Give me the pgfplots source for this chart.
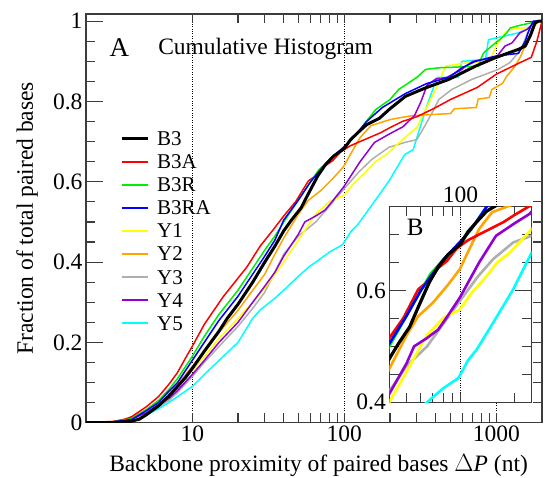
\documentclass[border=0pt]{standalone}
\usepackage{fontspec}
\setmainfont{Liberation Serif}
\usepackage{pgfplots}
\pgfplotsset{compat=1.18}
\usepackage{pgfplotstable}

\definecolor{lnRed}{RGB}{255,0,0}
\definecolor{lnGreen}{RGB}{0,238,0}
\definecolor{lnBlue}{RGB}{0,0,255}
\definecolor{lnYellow}{RGB}{255,255,0}
\definecolor{lnOrange}{RGB}{255,165,0}
\definecolor{lnGray}{RGB}{175,175,175}
\definecolor{lnPurple}{RGB}{148,0,211}
\definecolor{lnCyan}{RGB}{0,255,255}
\definecolor{frame}{RGB}{60,60,60}

\pgfplotstableread{
x y
2 0
3 0
4 0.004
4.5 0.009
5 0.02
6 0.042
7 0.066
8 0.09
9 0.112
10 0.135
12 0.178
15 0.228
17 0.26
20 0.295
25 0.35
30 0.40
35 0.44
40 0.478
45 0.505
52 0.535
58 0.57
67 0.615
75 0.642
85 0.664
100 0.683
110 0.705
125 0.725
140 0.742
170 0.758
200 0.782
253 0.813
343 0.834
487 0.855
729 0.888
984 0.909
1400 0.93
1550 0.938
1680 0.965
1800 0.996
1900 1.0
2000 1.0
}\dBthree

\pgfplotstableread{
x y
2 0
3 0.003
3.5 0.007
4 0.015
5 0.04
6 0.065
7 0.095
8 0.125
9 0.16
10 0.19
12 0.245
16 0.314
20 0.36
23 0.389
28 0.44
34 0.48
40 0.515
48 0.551
58 0.602
67.5 0.62
75 0.64
84 0.653
95 0.675
110 0.69
123 0.698
150 0.712
173 0.722
200 0.735
240 0.75
300 0.762
400 0.785
500 0.805
750 0.835
1000 0.868
1400 0.895
1700 0.91
1850 0.95
2000 1.0
}\dBthreeA

\pgfplotstableread{
x y
2 0
3 0.002
4 0.01
5 0.033
6 0.055
7 0.082
8 0.11
10 0.165
12 0.215
15 0.27
20 0.33
25 0.385
30 0.43
35 0.465
40 0.5
50 0.555
60 0.6
68 0.63
80 0.655
100 0.685
115 0.71
130 0.735
161 0.78
200 0.805
228 0.83
300 0.86
343 0.88
420 0.884
766 0.888
790 0.905
826 0.921
959 0.942
1100 0.96
1172 0.971
1235 0.983
1400 0.989
1700 0.996
1800 1.0
2000 1.0
}\dBthreeR

\pgfplotstableread{
x y
2 0
3 0.002
4 0.008
5 0.03
6 0.05
7 0.078
8 0.1
10 0.155
12 0.2
15 0.255
20 0.315
25 0.37
30 0.415
35 0.455
40 0.505
50 0.555
60 0.6
68 0.625
80 0.655
100 0.688
115 0.71
140 0.75
178 0.785
253 0.82
350 0.845
487 0.86
600 0.885
729 0.9
984 0.913
1400 0.92
1550 0.95
1650 0.98
1750 1.0
2000 1.0
}\dBthreeRA

\pgfplotstableread{
x y
2 0
3 0.002
4 0.01
5 0.03
6 0.05
7 0.07
8 0.09
10 0.13
12 0.165
15 0.21
20 0.26
25 0.3
30 0.335
35 0.37
40 0.40
50 0.455
57 0.488
65 0.52
80 0.551
99 0.566
115 0.595
140 0.626
160 0.65
189 0.668
250 0.71
300 0.735
343 0.78
419 0.846
463 0.888
600 0.895
900 0.9
1010 0.942
1140 0.971
1230 0.98
1700 0.985
1850 1.0
2000 1.0
}\dYone

\pgfplotstableread{
x y
2 0
3 0.003
4 0.012
5 0.032
6 0.055
7 0.075
8 0.095
10 0.14
12 0.175
15 0.225
20 0.28
25 0.33
30 0.37
35 0.42
40 0.46
50 0.52
58 0.554
70 0.578
85 0.61
99 0.638
112 0.674
127 0.71
150 0.74
200 0.755
280 0.765
500 0.77
530 0.782
740 0.785
760 0.806
900 0.81
935 0.83
1100 0.845
1172 0.863
1330 0.888
1450 0.913
1550 0.94
1700 0.97
1800 0.99
1900 1.0
2000 1.0
}\dYtwo

\pgfplotstableread{
x y
2 0
3 0.002
4 0.008
5 0.022
6 0.04
7 0.055
8 0.075
10 0.115
12 0.15
15 0.19
20 0.24
25 0.285
30 0.325
35 0.375
40 0.42
50 0.465
65 0.5
80 0.54
99 0.581
125 0.625
152 0.656
197 0.686
250 0.698
300 0.705
340 0.74
386 0.778
419 0.805
510 0.83
690 0.855
1030 0.88
1230 0.897
1460 0.93
1600 0.97
1750 0.99
1900 1.0
2000 1.0
}\dYthree

\pgfplotstableread{
x y
2 0
3 0.002
4 0.01
5 0.025
6 0.045
7 0.06
8 0.08
10 0.12
12 0.155
15 0.2
20 0.25
25 0.3
30 0.34
35 0.375
40 0.415
50 0.47
55 0.5
65 0.515
75 0.53
85 0.555
99 0.587
127 0.65
158 0.698
200 0.72
243 0.737
290 0.765
320 0.8
350 0.84
400 0.856
473 0.86
583 0.878
700 0.9
1000 0.91
1140 0.938
1270 0.946
1430 0.971
1600 0.98
1800 1.0
2000 1.0
}\dYfour

\pgfplotstableread{
x y
2 0
3 0.001
4 0.006
5 0.02
6 0.035
7 0.05
8 0.065
10 0.09
12 0.12
15 0.155
20 0.2
25 0.26
28 0.281
35 0.31
40 0.33
50 0.365
59 0.389
65 0.4
80 0.425
97 0.443
100 0.45
110 0.475
123 0.494
152 0.542
197 0.602
250 0.668
284 0.68
343 0.78
408 0.86
564 0.86
593 0.9
850 0.905
888 0.954
1400 0.971
1700 0.985
1850 1.0
2000 1.0
}\dYfive

\begin{document}
\begin{tikzpicture}
\useasboundingbox (-86pt,-55.3pt) rectangle (459pt,422.7pt);
\begin{axis}[
  scale only axis, xmode=log, tick align=inside,
  xtick pos=both, ytick pos=both,
  major tick length=9.5pt, minor tick length=9.5pt,
  axis line style={line width=1.3pt, draw=frame},
  every tick/.style={line width=1.2pt, draw=frame},
  tick label style={font=\rmfamily\fontsize{23.5}{28}\selectfont},
  /pgf/number format/assume math mode=true,
  xmajorgrids,
  major grid style={black, dotted, line width=1pt},
  at={(0pt,0pt)}, anchor=south west,
  width=456pt, height=408.7pt,
  xmin=2, xmax=2000, ymin=0, ymax=1.018,
  xtick={10,100,1000}, xticklabels={10,100,1000},
  ytick={0,0.2,0.4,0.6,0.8,1}, yticklabels={0,0.2,0.4,0.6,0.8,1},
  minor y tick num=3,
  extra y ticks={0,0.2,0.4,0.6,0.8,1}, extra y tick labels={},
  extra y tick style={major tick length=17pt},
  xlabel={Backbone proximity of paired bases \(\Delta\)\textit{P} (nt)},
  ylabel={Fraction of total paired bases},
  every axis x label/.style={at={(axis description cs:0.51,-0.12)}, anchor=base, font=\rmfamily\fontsize{23.5}{28}\selectfont},
  every axis y label/.style={at={(axis description cs:-0.1294,0.5)}, anchor=center, rotate=90, font=\rmfamily\fontsize{23.5}{28}\selectfont},
  legend cell align=left,
  legend image code/.code={\draw[#1] (0pt,0pt) -- (26pt,0pt);},
  legend style={at={(axis description cs:0.0746,0.724)}, anchor=north west, draw=none, fill=none,
    inner sep=0pt, row sep=0pt, column sep=8pt,
    font=\rmfamily\fontsize{21}{23}\selectfont,
    nodes={inner sep=0pt, text height=18.5pt, text depth=4.6pt}},
]
\addlegendimage{draw=black, line width=3pt}\addlegendentry{B3}
\addlegendimage{draw=lnRed, line width=1.8pt}\addlegendentry{B3A}
\addlegendimage{draw=lnGreen, line width=1.8pt}\addlegendentry{B3R}
\addlegendimage{draw=lnBlue, line width=1.8pt}\addlegendentry{B3RA}
\addlegendimage{draw=lnYellow, line width=1.8pt}\addlegendentry{Y1}
\addlegendimage{draw=lnOrange, line width=1.8pt}\addlegendentry{Y2}
\addlegendimage{draw=lnGray, line width=1.8pt}\addlegendentry{Y3}
\addlegendimage{draw=lnPurple, line width=1.8pt}\addlegendentry{Y4}
\addlegendimage{draw=lnCyan, line width=1.8pt}\addlegendentry{Y5}
\addplot[lnCyan, line width=1.5pt, line join=round, forget plot] table[x=x,y=y] {\dYfive};
\addplot[lnGray, line width=1.5pt, line join=round, forget plot] table[x=x,y=y] {\dYthree};
\addplot[lnYellow, line width=1.5pt, line join=round, forget plot] table[x=x,y=y] {\dYone};
\addplot[lnOrange, line width=1.5pt, line join=round, forget plot] table[x=x,y=y] {\dYtwo};
\addplot[lnPurple, line width=1.5pt, line join=round, forget plot] table[x=x,y=y] {\dYfour};
\addplot[lnRed, line width=1.5pt, line join=round, forget plot] table[x=x,y=y] {\dBthreeA};
\addplot[lnGreen, line width=1.5pt, line join=round, forget plot] table[x=x,y=y] {\dBthreeR};
\addplot[lnBlue, line width=1.5pt, line join=round, forget plot] table[x=x,y=y] {\dBthreeRA};
\addplot[black, line width=3pt, line join=round, forget plot] table[x=x,y=y] {\dBthree};
\node[anchor=base west, inner sep=0pt, font=\rmfamily\fontsize{27}{30}\selectfont] at (axis description cs:0.0515,0.895) {A};
\node[anchor=base west, inner sep=0pt, font=\rmfamily\fontsize{23.5}{28}\selectfont] at (axis description cs:0.158,0.902) {Cumulative Histogram};
\end{axis}

\begin{axis}[
  scale only axis, xmode=log, tick align=inside,
  major tick length=9.5pt, minor tick length=9.5pt,
  axis line style={line width=1.3pt, draw=frame},
  every tick/.style={line width=1.2pt, draw=frame},
  tick label style={font=\rmfamily\fontsize{23.5}{28}\selectfont},
  /pgf/number format/assume math mode=true,
  xmajorgrids,
  major grid style={black, dotted, line width=1pt},
  at={(303.3pt,20.4pt)}, anchor=south west,
  width=142.4pt, height=195.6pt,
  xmin=40, xmax=250, ymin=0.4, ymax=0.75,
  xtick={100}, xticklabels={100}, xticklabel pos=right,
  minor xtick={40,50,60,70,80,90,200},
  ytick={0.4,0.6}, yticklabels={0.4,0.6},
  minor ytick={0.45,0.5,0.55,0.65,0.7},
  extra y ticks={0.4,0.6}, extra y tick labels={},
  extra y tick style={major tick length=17pt},
  xtick pos=both, ytick pos=both,
  axis background/.style={fill=white},
]
\addplot[lnCyan, line width=2.6pt, line join=round] table[x=x,y=y] {\dYfive};
\addplot[lnGray, line width=2.6pt, line join=round] table[x=x,y=y] {\dYthree};
\addplot[lnYellow, line width=2.6pt, line join=round] table[x=x,y=y] {\dYone};
\addplot[lnOrange, line width=2.6pt, line join=round] table[x=x,y=y] {\dYtwo};
\addplot[lnPurple, line width=2.6pt, line join=round] table[x=x,y=y] {\dYfour};
\addplot[lnRed, line width=2.6pt, line join=round] table[x=x,y=y] {\dBthreeA};
\addplot[lnGreen, line width=2.6pt, line join=round] table[x=x,y=y] {\dBthreeR};
\addplot[lnBlue, line width=2.6pt, line join=round] table[x=x,y=y] {\dBthreeRA};
\addplot[black, line width=3.2pt, line join=round] table[x=x,y=y] {\dBthree};
\node[anchor=base west, inner sep=0pt, font=\rmfamily\fontsize{25}{28}\selectfont] at (axis description cs:0.122,0.855) {B};
\end{axis}
\end{tikzpicture}
\end{document}
